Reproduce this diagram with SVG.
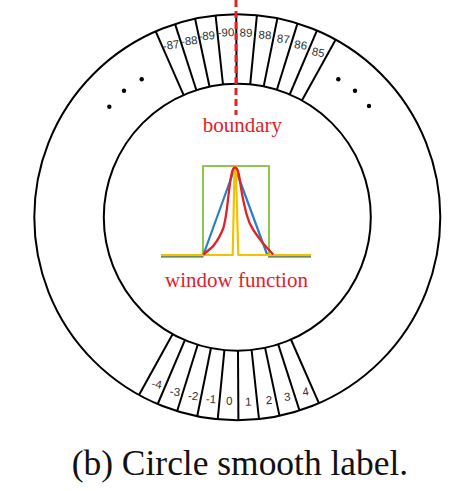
<svg xmlns="http://www.w3.org/2000/svg" width="473" height="491" viewBox="0 0 473 491">
<style>
.ring{fill:none;stroke:#000;stroke-width:2}
.div{stroke:#000;stroke-width:2;fill:none}
.lbl{font-family:"Liberation Sans",Arial,sans-serif;font-size:11.5px;fill:#333;text-anchor:middle;dominant-baseline:central}
.red{font-family:"Liberation Serif","Times New Roman",serif;font-size:21px;fill:#e0222b}
.cap{font-family:"Liberation Serif","Times New Roman",serif;font-size:35px;fill:#111}
.dot{fill:#000}
</style>
<rect width="473" height="491" fill="#fff"/>
<g id="ring">
<circle class="ring" cx="237.3" cy="217.3" r="203"/>
<circle class="ring" cx="237.3" cy="217.3" r="133.5"/>
</g>
<g id="connectors">
<g id="top-dividers">
<line class="div" x1="155.7" y1="31.4" x2="183.65" y2="95.1"/>
<line class="div" x1="175.1" y1="24.1" x2="196.4" y2="90.2"/>
<line class="div" x1="195.1" y1="18.7" x2="209.55" y2="86.7"/>
<line class="div" x1="215.6" y1="15.5" x2="223.0" y2="84.6"/>
<line class="div" x1="236.25" y1="14.3" x2="236.6" y2="83.8"/>
<line class="div" x1="256.9" y1="15.3" x2="250.2" y2="84.4"/>
<line class="div" x1="277.4" y1="18.3" x2="263.7" y2="86.4"/>
<line class="div" x1="297.5" y1="23.4" x2="276.9" y2="89.8"/>
<line class="div" x1="316.9" y1="30.6" x2="289.7" y2="94.5"/>
<line class="div" x1="335.6" y1="39.7" x2="301.9" y2="100.5"/>
</g>
<g id="bottom-dividers">
<line class="div" x1="139.0" y1="394.9" x2="172.7" y2="334.1"/>
<line class="div" x1="157.7" y1="404.0" x2="184.9" y2="340.1"/>
<line class="div" x1="177.1" y1="411.2" x2="197.7" y2="344.8"/>
<line class="div" x1="197.2" y1="416.3" x2="210.9" y2="348.2"/>
<line class="div" x1="217.7" y1="419.3" x2="224.4" y2="350.2"/>
<line class="div" x1="238.4" y1="420.3" x2="238.0" y2="350.8"/>
<line class="div" x1="259.0" y1="419.1" x2="251.6" y2="350.0"/>
<line class="div" x1="279.5" y1="415.9" x2="265.1" y2="347.9"/>
<line class="div" x1="299.5" y1="410.5" x2="278.2" y2="344.4"/>
<line class="div" x1="318.9" y1="403.2" x2="290.95" y2="339.5"/>
</g>
<line id="boundary-line" x1="236" y1="0" x2="236" y2="115" stroke="#e0222b" stroke-width="3" stroke-dasharray="7,4"/>
</g>
<g id="top-labels">
<text class="lbl" x="171" y="45" transform="rotate(-8.5 171 45)">-87</text>
<text class="lbl" x="189.3" y="40.7" transform="rotate(-6 189.3 40.7)">-88</text>
<text class="lbl" x="206.7" y="35.7" transform="rotate(-3.7 206.7 35.7)">-89</text>
<text class="lbl" x="226" y="32.3" transform="rotate(-1.3 226 32.3)">-90</text>
<text class="lbl" x="246" y="32.7" transform="rotate(1.1 246 32.7)">89</text>
<text class="lbl" x="265" y="35" transform="rotate(3.4 265 35)">88</text>
<text class="lbl" x="283.3" y="39" transform="rotate(5.8 283.3 39)">87</text>
<text class="lbl" x="300.7" y="45" transform="rotate(8.1 300.7 45)">86</text>
<text class="lbl" x="318.3" y="52.3" transform="rotate(10.5 318.3 52.3)">85</text>
</g>
<g id="bottom-labels">
<text class="lbl" x="156.7" y="384" transform="rotate(10.5 156.7 384)">-4</text>
<text class="lbl" x="175" y="391.7" transform="rotate(8.1 175 391.7)">-3</text>
<text class="lbl" x="193.3" y="396" transform="rotate(5.8 193.3 396)">-2</text>
<text class="lbl" x="211" y="399" transform="rotate(3.4 211 399)">-1</text>
<text class="lbl" x="229.3" y="400.7" transform="rotate(1.1 229.3 400.7)">0</text>
<text class="lbl" x="248.3" y="401.7" transform="rotate(-1.3 248.3 401.7)">1</text>
<text class="lbl" x="269" y="400" transform="rotate(-3.7 269 400)">2</text>
<text class="lbl" x="287.3" y="396.7" transform="rotate(-6 287.3 396.7)">3</text>
<text class="lbl" x="305.7" y="391.7" transform="rotate(-8.5 305.7 391.7)">4</text>
</g>
<g id="ellipsis-left">
<circle class="dot" cx="141.7" cy="79.3" r="2.2"/>
<circle class="dot" cx="124" cy="90.7" r="2.2"/>
<circle class="dot" cx="109.3" cy="106.7" r="2.2"/>
</g>
<g id="ellipsis-right">
<circle class="dot" cx="338.3" cy="79.3" r="2.2"/>
<circle class="dot" cx="355" cy="90.7" r="2.2"/>
<circle class="dot" cx="369" cy="106" r="2.2"/>
</g>
<g id="boundary-label">
<text class="red" x="202.7" y="132.3">boundary</text>
</g>
<g id="window-chart" fill="none" stroke-linejoin="round">
<polyline points="161,256.6 203,256.6 203,166 269,166 269,256.6 311,256.6" stroke="#8fc64e" stroke-width="2"/>
<line x1="161" y1="256.8" x2="203" y2="256.8" stroke="#6b8f5e" stroke-width="1.6"/>
<line x1="268" y1="256.8" x2="311" y2="256.8" stroke="#6b8f5e" stroke-width="1.6"/>
<polyline points="203.3,255 235,167.5 267.3,255" stroke="#2a7fc2" stroke-width="2.2"/>
<polyline points="161,255 232.7,255 234.6,166.5 235.8,166.5 238.3,255 311,255" stroke="#f2c200" stroke-width="2.2"/>
<path d="M203.3,254.7 C207,251 211.7,248.3 214,245 C218,240 221,234 223.3,228.3 C225,222 226,216 227,208 C228.5,196 230,180 231.7,173.3 C232.5,169.5 233.5,167.7 235,167.5 C236.5,167.5 238,170 239,175 C240,181 241,188 241.7,191.7 C243,200 245,208 246.5,214 C248,220 250,225 253.3,230 C256,234 259,238 262,242 C266,247 270,251 273.3,254.5" stroke="#e0222b" stroke-width="2.3"/>
</g>
<g id="window-label">
<text class="red" x="165" y="287.3">window function</text>
</g>
<g id="caption">
<text class="cap" x="71.7" y="475" textLength="336.5" lengthAdjust="spacingAndGlyphs">(b) Circle smooth label.</text>
</g>
</svg>
